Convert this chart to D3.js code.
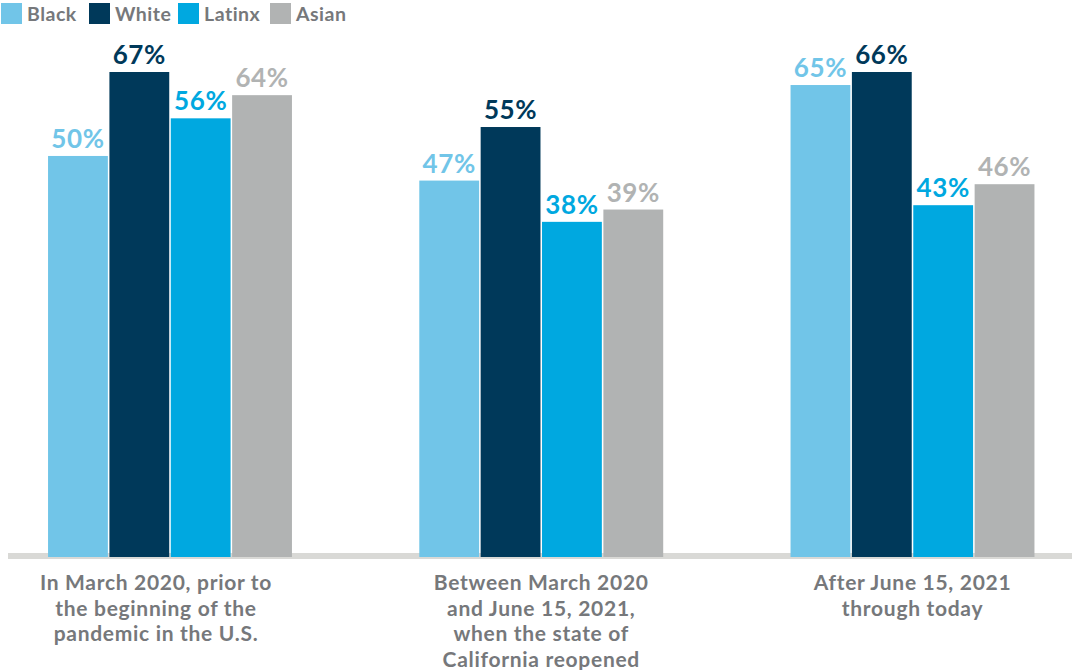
<!DOCTYPE html>
<html>
<head>
<meta charset="utf-8">
<script src="https://cdn.jsdelivr.net/npm/d3@7"></script>
<style>
  html, body { margin: 0; padding: 0; background: #ffffff; }
  svg { display: block; }
  text { font-family: "Lato", "Open Sans", sans-serif; font-weight: 700; }
</style>
</head>
<body>
<svg id="chart" width="1072" height="670"></svg>
<script>
// ---- data ----
const categories = [
  ["In March 2020, prior to", "the beginning of the", "pandemic in the U.S."],
  ["Between March 2020", "and June 15, 2021,", "when the state of", "California reopened"],
  ["After June 15, 2021", "through today"]
];
const seriesNames = ["Black", "White", "Latinx", "Asian"];
// bar heights as drawn in the picture (percent units)
const blackBars  = [55.4, 52.0, 65.2];
const whiteBars  = [67.0, 59.4, 67.0];
const latinxBars = [60.6, 46.3, 48.6];
const asianBars  = [63.8, 48.0, 51.5];
// data labels as printed
const blackLabels  = [50, 47, 65];
const whiteLabels  = [67, 55, 66];
const latinxLabels = [56, 38, 43];
const asianLabels  = [64, 39, 46];
const colors = ["#71c5e8", "#00395a", "#00a8e0", "#b1b3b3"];

const barsBySeries = [blackBars, whiteBars, latinxBars, asianBars];
const labelsBySeries = [blackLabels, whiteLabels, latinxLabels, asianLabels];

const svg = d3.select("#chart");
const baseY = 557;

const step = 371.25;
const x0 = d3.scaleBand()
  .domain(d3.range(categories.length))
  .range([170 - step / 2, 912.5 + step / 2])
  .paddingInner(0.343)
  .paddingOuter(0.343 / 2);
const x1 = d3.scaleBand()
  .domain(seriesNames)
  .range([0, x0.bandwidth()])
  .paddingInner(0.025);
const y = d3.scaleLinear().domain([0, 67]).range([baseY, 72]);

// baseline
svg.append("rect")
  .attr("x", 8).attr("y", 553).attr("width", 1064).attr("height", 6)
  .attr("fill", "#d9d9d6");

// bars
const groups = svg.selectAll("g.grp")
  .data(categories.map((c, i) => i))
  .join("g").attr("class", "grp")
  .attr("transform", i => `translate(${x0(i)},0)`);

seriesNames.forEach((s, si) => {
  groups.append("rect")
    .attr("x", x1(s))
    .attr("width", x1.bandwidth())
    .attr("y", i => y(barsBySeries[si][i]))
    .attr("height", i => baseY - y(barsBySeries[si][i]))
    .attr("fill", colors[si]);
  groups.append("text")
    .attr("x", x1(s) + x1.bandwidth() / 2)
    .attr("y", i => y(barsBySeries[si][i]) - 8)
    .attr("text-anchor", "middle")
    .attr("font-size", 26)
    .attr("letter-spacing", 0.6)
    .attr("fill", colors[si])
    .text(i => labelsBySeries[si][i] + "%");
});

// category labels (first label box sits slightly left of its group)
const labelShift = i => (i === 0 ? -14 : 0);
groups.each(function(i) {
  const t = d3.select(this).append("text")
    .attr("text-anchor", "middle")
    .attr("font-size", 21)
    .attr("letter-spacing", 0.7)
    .attr("fill", "#76787b");
  categories[i].forEach((line, li) => {
    t.append("tspan")
      .attr("x", x0.bandwidth() / 2 + labelShift(i))
      .attr("y", 590 + li * 25.6)
      .text(line);
  });
});

// legend
const legendX = [1, 89, 178, 270];
const lg = svg.selectAll("g.leg").data(seriesNames).join("g").attr("class", "leg")
  .attr("transform", (d, i) => `translate(${legendX[i]},3)`);
lg.append("rect").attr("width", 21).attr("height", 21).attr("fill", (d, i) => colors[i]);
lg.append("text").attr("x", 26).attr("y", 18).attr("font-size", 19.5)
  .attr("letter-spacing", 0.5)
  .attr("fill", "#76787b").text(d => d);
</script>
</body>
</html>
